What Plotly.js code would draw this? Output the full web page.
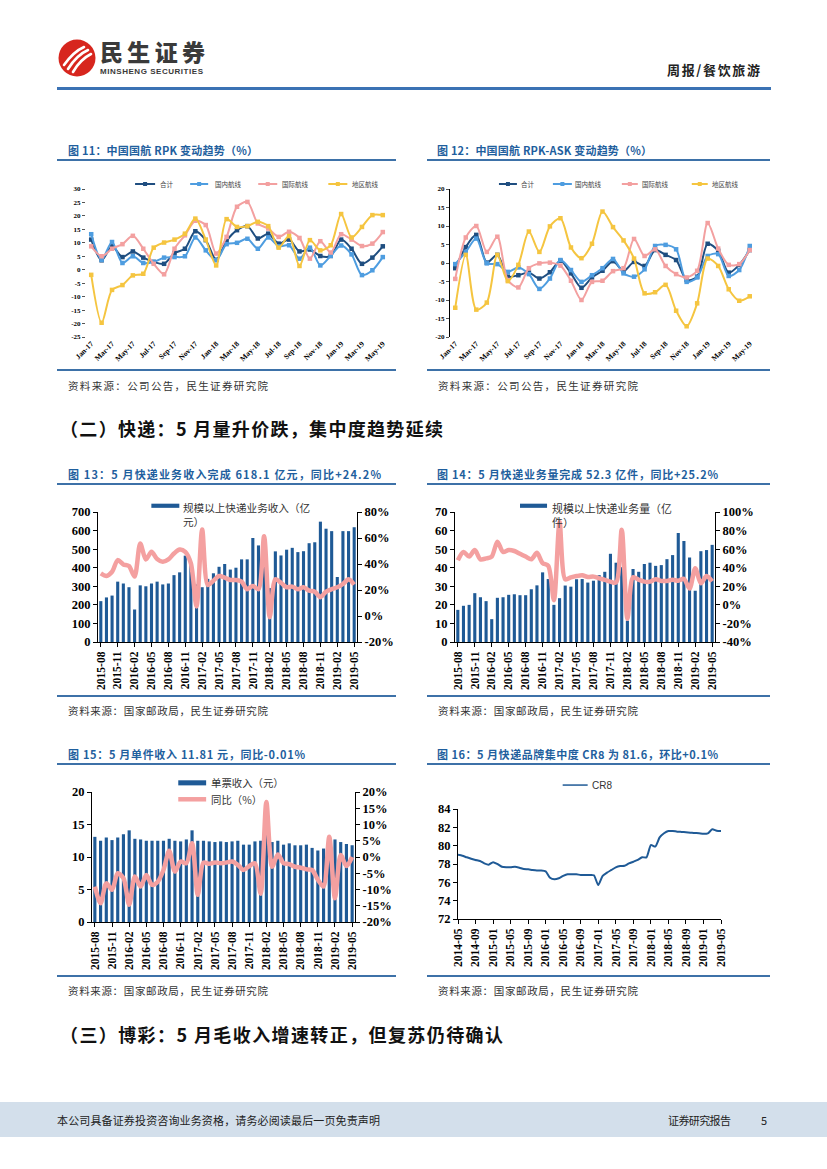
<!DOCTYPE html>
<html><head><meta charset="utf-8">
<script src="https://cdn.plot.ly/plotly-3.0.1.min.js"></script>
<style>
body{margin:0;background:#fff;}
#page{position:relative;width:827px;height:1169px;overflow:hidden;background:#fff;font-family:'Noto Sans CJK SC',sans-serif;}
.abs{position:absolute;white-space:nowrap;line-height:1;}
.ctitle{font-size:11px;font-weight:bold;color:#1f5f9e;}
.rule{position:absolute;height:2px;background:#3d71a8;}
.src{font-size:10.5px;color:#333;}
.sec{font-size:18px;font-weight:bold;color:#111;}
.chart{position:absolute;}
</style></head><body><div id="page">

<!-- header -->
<svg class="abs" style="left:58px;top:39px" width="38" height="38" viewBox="0 0 38 38">
<circle cx="19" cy="19" r="18.5" fill="#d7261e"/>
<path d="M6 26 C11 19 17 12 26 8" stroke="#fff" stroke-width="2.6" fill="none" stroke-linecap="round"/>
<path d="M10 30 C15 22 21 15 30 11" stroke="#fff" stroke-width="2.6" fill="none" stroke-linecap="round"/>
<path d="M15 33 C19 26 25 19 33 15" stroke="#fff" stroke-width="2.6" fill="none" stroke-linecap="round"/>
</svg>
<div class="abs" data-w="105" style="left:100px;top:40px;font-size:23px;font-weight:900;color:#3a3a3a;">民生证券</div>
<div class="abs" data-w="103" style="left:100px;top:68px;font-size:8px;font-weight:bold;color:#3a3a3a;font-family:'Liberation Sans',Arial,sans-serif;">MINSHENG SECURITIES</div>
<div class="abs" data-w="93" style="left:667px;top:62.5px;font-size:13px;font-weight:bold;color:#222;">周报/餐饮旅游</div>
<div class="rule" style="left:57px;top:87px;width:714px;height:2.5px;background:#3b72b4;"></div>

<!-- chart 11 / 12 headers -->
<div class="abs ctitle" data-w="190" style="left:68px;top:144.5px;">图 11：中国国航 RPK 变动趋势（%）</div>
<div class="rule" style="left:57px;top:159px;width:339px;"></div>
<div class="abs ctitle" data-w="215" style="left:437px;top:144.5px;">图 12：中国国航 RPK-ASK 变动趋势（%）</div>
<div class="rule" style="left:427px;top:159px;width:343px;"></div>

<div id="c11" class="chart" style="left:57px;top:165px;width:335px;height:205px;"></div>
<div id="c12" class="chart" style="left:425px;top:165px;width:340px;height:205px;"></div>

<div class="rule" style="left:57px;top:369px;width:339px;"></div>
<div class="rule" style="left:427px;top:369px;width:343px;"></div>
<div class="abs src" data-w="200" style="left:68px;top:381px;">资料来源：公司公告，民生证券研究院</div>
<div class="abs src" data-w="200" style="left:438px;top:381px;">资料来源：公司公告，民生证券研究院</div>

<div class="abs sec" data-w="383" style="left:60px;top:419px;">（二）快递：5 月量升价跌，集中度趋势延续</div>

<!-- chart 13 / 14 -->
<div class="abs ctitle" data-w="313" style="left:68px;top:468.5px;">图 13：5 月快递业务收入完成 618.1 亿元，同比+24.2%</div>
<div class="rule" style="left:57px;top:483px;width:339px;"></div>
<div class="abs ctitle" data-w="281" style="left:437px;top:468.5px;">图 14：5 月快递业务量完成 52.3 亿件，同比+25.2%</div>
<div class="rule" style="left:427px;top:483px;width:343px;"></div>

<div id="c13" class="chart" style="left:57px;top:490px;width:340px;height:206px;"></div>
<div id="c14" class="chart" style="left:425px;top:490px;width:345px;height:206px;"></div>

<div class="rule" style="left:57px;top:695px;width:339px;"></div>
<div class="rule" style="left:427px;top:695px;width:343px;"></div>
<div class="abs src" data-w="200" style="left:68px;top:705.5px;">资料来源：国家邮政局，民生证券研究院</div>
<div class="abs src" data-w="200" style="left:438px;top:705.5px;">资料来源：国家邮政局，民生证券研究院</div>

<!-- chart 15 / 16 -->
<div class="abs ctitle" data-w="237" style="left:68px;top:748.5px;">图 15：5 月单件收入 11.81 元，同比-0.01%</div>
<div class="rule" style="left:57px;top:763px;width:339px;"></div>
<div class="abs ctitle" data-w="281" style="left:437px;top:748.5px;">图 16：5 月快递品牌集中度 CR8 为 81.6，环比+0.1%</div>
<div class="rule" style="left:427px;top:763px;width:343px;"></div>

<div id="c15" class="chart" style="left:57px;top:768px;width:340px;height:208px;"></div>
<div id="c16" class="chart" style="left:425px;top:768px;width:340px;height:208px;"></div>

<div class="rule" style="left:57px;top:975px;width:339px;"></div>
<div class="rule" style="left:427px;top:975px;width:343px;"></div>
<div class="abs src" data-w="200" style="left:68px;top:985.5px;">资料来源：国家邮政局，民生证券研究院</div>
<div class="abs src" data-w="200" style="left:438px;top:985.5px;">资料来源：国家邮政局，民生证券研究院</div>

<div class="abs sec" data-w="443" style="left:60px;top:1025px;">（三）博彩：5 月毛收入增速转正，但复苏仍待确认</div>

<!-- footer -->
<div style="position:absolute;left:0;top:1102px;width:827px;height:35px;background:#d3dfeb;"></div>
<div class="abs" data-w="323" style="left:57px;top:1114.5px;font-size:11px;color:#222;">本公司具备证券投资咨询业务资格，请务必阅读最后一页免责声明</div>
<div class="abs" data-w="63" style="left:668px;top:1114.5px;font-size:11px;color:#222;">证券研究报告</div>
<div class="abs" style="left:761px;top:1114.5px;font-size:11px;color:#222;">5</div>

</div>
<script>
// ---------------- data ----------------
const months17 = ['Jan-17','Feb-17','Mar-17','Apr-17','May-17','Jun-17','Jul-17','Aug-17','Sep-17','Oct-17','Nov-17','Dec-17','Jan-18','Feb-18','Mar-18','Apr-18','May-18','Jun-18','Jul-18','Aug-18','Sep-18','Oct-18','Nov-18','Dec-18','Jan-19','Feb-19','Mar-19','Apr-19','May-19'];
const rpkTickLabels = ['Jan-17','Mar-17','May-17','Jul-17','Sep-17','Nov-17','Jan-18','Mar-18','May-18','Jul-18','Sep-18','Nov-18','Jan-19','Mar-19','May-19'];
const seriesNames = ['合计','国内航线','国际航线','地区航线'];

// 图11 RPK 变动 (%)
const rpkTotal = [11.2,3.5,8.7,4.7,6.8,4.5,2.9,2.2,6.2,7.8,14.3,11.0,3.7,10.7,14.7,16.2,11.6,13.4,9.7,11.2,6.8,7.5,5.1,5.1,11.2,7.8,2.2,4.5,8.7];
const rpkDomestic = [13.2,3.7,10.3,2.5,5.0,2.5,2.9,4.5,4.7,5.0,12.0,7.2,3.5,9.5,10.0,11.5,7.8,12.0,8.7,9.1,4.1,8.2,1.6,5.2,9.0,5.7,-2.0,-0.2,4.7];
const rpkIntl = [8.7,5.0,7.8,9.5,12.6,7.8,2.2,-1.7,7.8,12.8,18.2,16.6,6.0,12.2,23.4,25.2,17.2,15.3,12.2,14.1,11.8,4.1,10.6,6.4,13.2,11.2,8.8,9.7,14.0];
const rpkRegional = [-1.9,-19.7,-7.5,-5.7,-2.1,-1.5,8.2,10.1,11.2,13.4,19.0,11.2,1.6,18.8,15.9,16.2,17.8,16.2,8.2,12.5,1.4,11.0,7.2,9.1,20.7,12.0,15.9,20.3,20.3];
const rpkYTicks = [30,25,20,15,10,5,0,-5,-10,-15,-20,-25];

// 图12 RPK-ASK 变动 (%)
const gapTotal = [-1.4,4.3,7.6,0.1,2.2,-3.7,-3.3,-2.6,-4.2,-2.5,0.6,-2.8,-6.7,-3.9,-2.1,0.5,-2.2,0.3,-0.8,3.5,2.2,0.8,-4.6,-3.7,5.2,3.3,-2.6,-0.5,3.5];
const gapDomestic = [-0.3,3.0,6.6,-0.1,-0.3,-2.4,-1.2,-3.0,-7.0,-4.2,0.8,-1.9,-5.1,-3.3,-1.4,1.1,-2.8,-3.7,-1.7,4.6,4.9,3.7,-5.1,-3.9,1.9,2.4,-3.5,-1.9,4.6];
const gapIntl = [-4.3,6.9,10.0,3.0,7.1,-4.6,-6.6,-1.4,-0.1,0.1,-0.7,-4.8,-10.0,-5.1,-4.8,-2.2,-1.4,6.5,1.9,3.7,-0.8,-3.0,-3.9,-2.1,10.8,3.9,-0.5,-0.3,3.5];
const gapRegional = [-12.1,2.2,-12.6,-10.7,2.2,-4.9,-0.5,8.5,3.0,9.9,12.1,4.2,1.3,5.2,13.9,9.7,6.1,1.2,-8.2,-7.9,-5.9,-12.9,-17.1,-10.9,1.2,-0.8,-7.1,-10.2,-9.0];
const gapYTicks = [20,15,10,5,0,-5,-10,-15,-20];

// 快递月度 2015-08 ~ 2019-05
const months46 = ['2015-08','2015-09','2015-10','2015-11','2015-12','2016-01','2016-02','2016-03','2016-04','2016-05','2016-06','2016-07','2016-08','2016-09','2016-10','2016-11','2016-12','2017-01','2017-02','2017-03','2017-04','2017-05','2017-06','2017-07','2017-08','2017-09','2017-10','2017-11','2017-12','2018-01','2018-02','2018-03','2018-04','2018-05','2018-06','2018-07','2018-08','2018-09','2018-10','2018-11','2018-12','2019-01','2019-02','2019-03','2019-04','2019-05'];
const expressTickLabels = ['2015-08','2015-11','2016-02','2016-05','2016-08','2016-11','2017-02','2017-05','2017-08','2017-11','2018-02','2018-05','2018-08','2018-11','2019-02','2019-05'];

// 图13 收入 (亿元) 与同比 (%)
const revenue = [220,240,250,325,315,295,175,305,300,315,325,310,315,360,375,465,428,310,295,340,370,405,420,390,400,445,445,560,520,500,290,488,466,497,507,484,489,532,537,648,610,597,350,597,597,618];
const revenueYoY = [32.8,30.8,34.0,43.0,39.7,38.4,30.3,55.8,43.5,49.4,43.8,41.7,43.5,48.1,51.2,49.4,40.5,7.3,66.5,23.9,27.2,30.8,29.5,27.7,27.7,26.4,20.6,23.1,20.6,61.4,-0.9,28.2,25.6,22.1,22.6,20.6,22.1,19.5,18.7,14.5,18.7,20.6,22.1,24.6,28.2,24.2];
const revLeftTicks = [0,100,200,300,400,500,600,700];
const revRightTicks = [-20,0,20,40,60,80];

// 图14 业务量 (亿件) 与同比 (%)
const volume = [17.3,19.5,20.0,26.3,24.1,22.0,12.3,23.8,24.1,25.4,25.7,25.2,25.2,28.4,30.5,37.5,33.9,20.0,23.6,30.4,29.8,33.8,33.9,32.0,33.0,36.0,37.8,47.5,42.7,40.3,11.5,39.3,37.8,42.0,42.7,41.0,41.4,44.6,46.8,58.7,54.4,45.5,27.6,48.9,49.5,52.3];
const volumeYoY = [48,57,52,59,49,50,52,68,57,59,58,55,52,49,56,45,42,5,89,27.5,29.5,31,32,30,30.4,28.6,27,25,24,81,-15,29.7,27,25,25,27.6,25.8,25.8,27,26,28,17.5,39.3,23.2,31,25.2];
const volLeftTicks = [0,10,20,30,40,50,60,70];
const volRightTicks = [-40,-20,0,20,40,60,80,100];

// 图15 单票收入 (元) 与同比 (%)
const unitRevenue = [13.1,12.5,13.0,12.6,13.0,13.5,14.1,12.8,12.7,12.5,12.5,12.5,12.5,12.8,12.5,12.4,12.7,14.1,12.5,12.5,12.4,12.3,12.4,12.3,12.4,12.5,11.9,11.9,12.4,12.5,14.5,12.3,12.5,11.9,12.1,11.8,11.8,11.9,11.4,11.0,11.3,11.8,12.7,12.3,12.0,11.81];
const unitYoY = [-9.1,-14.2,-8.1,-10.1,-5.0,-6.5,-14.7,-6.0,-9.1,-5.5,-8.6,-7.6,-4.0,1.9,-4.5,-1.4,-1.9,4.2,-11.6,-1.7,-2.1,-1.7,-1.9,-1.7,-1.4,-2.4,-4.0,-2.8,-1.9,-11.3,16.9,-3.0,0.8,-1.9,-2.2,-3.0,-3.3,-3.8,-4.0,-7.0,-9.1,6.2,-12.7,0.6,-2.8,-0.01];
const unitLeftTicks = [0,5,10,15,20];
const unitRightTicks = [-20,-15,-10,-5,0,5,10,15,20];

// 图16 CR8
const cr8Months = ['2014-05','2014-06','2014-07','2014-08','2014-09','2014-10','2014-11','2014-12','2015-01','2015-02','2015-03','2015-04','2015-05','2015-06','2015-07','2015-08','2015-09','2015-10','2015-11','2015-12','2016-01','2016-02','2016-03','2016-04','2016-05','2016-06','2016-07','2016-08','2016-09','2016-10','2016-11','2016-12','2017-01','2017-02','2017-03','2017-04','2017-05','2017-06','2017-07','2017-08','2017-09','2017-10','2017-11','2017-12','2018-01','2018-02','2018-03','2018-04','2018-05','2018-06','2018-07','2018-08','2018-09','2018-10','2018-11','2018-12','2019-01','2019-02','2019-03','2019-04','2019-05'];
const cr8 = [79.0,78.9,78.73,78.58,78.44,78.33,78.07,77.93,78.2,78.0,77.7,77.64,77.64,77.7,77.6,77.46,77.42,77.35,77.3,77.3,77.2,76.5,76.33,76.44,76.7,76.88,76.88,76.88,76.8,76.8,76.8,76.77,75.7,76.7,77.06,77.35,77.64,77.78,77.8,78.07,78.25,78.44,78.73,78.73,80.07,79.9,80.9,81.35,81.6,81.6,81.53,81.5,81.46,81.42,81.38,81.35,81.3,81.35,81.78,81.63,81.6];
const cr8TickLabels = ['2014-05','2014-09','2015-01','2015-05','2015-09','2016-01','2016-05','2016-09','2017-01','2017-05','2017-09','2018-01','2018-05','2018-09','2019-01','2019-05'];
const cr8YTicks = [72,74,76,78,80,82,84];

// ---------------- style ----------------
const SERIF = 'Liberation Serif, Times New Roman, serif';
const CJK = 'Noto Sans CJK SC, sans-serif';
const NAVY = '#1f4e80', LBLUE = '#4e9de0', PINK = '#f3a0a0', GOLD = '#f5c540';
const BAR = '#1f5a96', LINEPINK = '#f4a0a0';
const cfg = {staticPlot:true, displayModeBar:false};

function baseLayout(l,r,t,b){
  return {margin:{l:l,r:r,t:t,b:b}, paper_bgcolor:'rgba(0,0,0,0)', plot_bgcolor:'rgba(0,0,0,0)',
    showlegend:false, font:{family:SERIF,color:'#000'}, shapes:[], annotations:[]};
}
function lineTrace(name, x, y, color){
  return {type:'scatter', mode:'lines+markers', name:name, x:x, y:y,
    line:{color:color, width:2, shape:'spline', smoothing:0.8},
    marker:{symbol:'square', size:4.5, color:color}};
}
// legend drawn as paper-space swatches, positions in pixels of the plot area
function rpkLegend(L, plotW, plotH, swatches, textX, colors){
  const y = 1 + 5/plotH;
  swatches.forEach((s,i)=>{
    const x0 = s[0]/plotW, x1 = s[1]/plotW, xm = (x0+x1)/2;
    L.shapes.push({type:'line', xref:'paper', yref:'paper', x0:x0, x1:x1, y0:y, y1:y, line:{color:colors[i], width:2}});
    L.shapes.push({type:'rect', xref:'paper', yref:'paper', x0:xm-2/plotW, x1:xm+2/plotW, y0:y-2/plotH, y1:y+2/plotH,
      fillcolor:colors[i], line:{width:0}});
    L.annotations.push({xref:'paper', yref:'paper', x:textX[i]/plotW, y:y, xanchor:'left', yanchor:'middle',
      showarrow:false, text:seriesNames[i], font:{family:CJK, size:6.5, color:'#444'}});
  });
}
function rpkLayout(l,r,t,b,ymin,ymax,yt){
  const L = baseLayout(l,r,t,b);
  L.xaxis = {type:'category', categoryorder:'array', categoryarray:months17, range:[-0.5,28.5],
    tickvals:rpkTickLabels, ticktext:rpkTickLabels, tickangle:-45,
    tickfont:{family:SERIF,size:7.5,weight:'bold'}, showline:false, ticks:'', showgrid:false, zeroline:false};
  L.xaxis2 = {overlaying:'x', anchor:'free', position:(0-ymin)/(ymax-ymin), range:[-0.5,28.5],
    tick0:-0.5, dtick:1, ticks:'outside', ticklen:3, tickcolor:'#000', showticklabels:false,
    showline:true, linecolor:'#000', linewidth:1, showgrid:false, zeroline:false};
  L.yaxis = {range:[ymin,ymax], tickvals:yt, ticktext:yt.map(String),
    tickfont:{family:SERIF,size:7,weight:'bold'}, ticks:'outside', ticklen:3, tickcolor:'#555',
    showgrid:false, zeroline:false};
  return L;
}
const rpkColors = [NAVY, LBLUE, PINK, GOLD];

// ---- chart 11
{
  const L = rpkLayout(29,4.4,24,33,-25,30,rpkYTicks);
  L.yaxis.showline = false;
  rpkLegend(L, 301.6, 148, [[49,69],[104,122],[172,191],[242,261]], [72,127,194,264], rpkColors);
  Plotly.newPlot('c11', [
    lineTrace(seriesNames[0], months17, rpkTotal, NAVY),
    lineTrace(seriesNames[1], months17, rpkDomestic, LBLUE),
    lineTrace(seriesNames[2], months17, rpkIntl, PINK),
    lineTrace(seriesNames[3], months17, rpkRegional, GOLD)
  ], L, cfg);
}
// ---- chart 12
{
  const L = rpkLayout(25,9.7,24.3,33.3,-20,20,gapYTicks);
  L.yaxis.showline = true; L.yaxis.linecolor = '#000'; L.yaxis.linewidth = 1;
  rpkLegend(L, 305.3, 147.4, [[49,67],[103,122],[172,188],[242,258]], [69,123,190,260], rpkColors);
  Plotly.newPlot('c12', [
    lineTrace(seriesNames[0], months17, gapTotal, NAVY),
    lineTrace(seriesNames[1], months17, gapDomestic, LBLUE),
    lineTrace(seriesNames[2], months17, gapIntl, PINK),
    lineTrace(seriesNames[3], months17, gapRegional, GOLD)
  ], L, cfg);
}

function comboLayout(l,r,t,b,leftTicks,rightTicks,xcats,xticks){
  const L = baseLayout(l,r,t,b);
  L.bargap = 0.45;
  L.xaxis = {type:'category', categoryorder:'array', categoryarray:xcats, range:[-0.5,xcats.length-0.5],
    tickvals:xticks, ticktext:xticks, tickangle:-90, tickfont:{family:SERIF,size:11.5,weight:'bold'},
    ticks:'outside', ticklen:4, tickcolor:'#000', showline:true, linecolor:'#000', linewidth:1,
    showgrid:false, zeroline:false};
  L.yaxis = {range:[leftTicks[0], leftTicks[leftTicks.length-1]], tickvals:leftTicks, ticktext:leftTicks.map(String),
    tickfont:{family:SERIF,size:12.5,weight:'bold'}, ticks:'outside', ticklen:4, tickcolor:'#000',
    showline:true, linecolor:'#000', linewidth:1, showgrid:false, zeroline:false};
  L.yaxis2 = {overlaying:'y', side:'right', range:[rightTicks[0], rightTicks[rightTicks.length-1]],
    tickvals:rightTicks, ticktext:rightTicks.map(v=>v+'%'),
    tickfont:{family:SERIF,size:12.5,weight:'bold'}, ticks:'outside', ticklen:4, tickcolor:'#000',
    showline:true, linecolor:'#000', linewidth:1, showgrid:false, zeroline:false};
  return L;
}
function legendBar(L, x0, x1, y0, y1){
  L.shapes.push({type:'rect', xref:'paper', yref:'paper', x0:x0, x1:x1, y0:y0, y1:y1, fillcolor:BAR, line:{width:0}});
}
function legendLine(L, x0, x1, y, color, w){
  L.shapes.push({type:'line', xref:'paper', yref:'paper', x0:x0, x1:x1, y0:y, y1:y, line:{color:color, width:w}});
}
function legendText(L, x, y, text, size, anchorY, fam){
  L.annotations.push({xref:'paper', yref:'paper', x:x, y:y, xanchor:'left', yanchor:anchorY||'middle', align:'left',
    showarrow:false, text:text, font:{family:fam||CJK, size:size, color:'#333'}});
}

// ---- chart 13
{
  const L = comboLayout(40.7,40.3,21.7,53.7,revLeftTicks,revRightTicks,months46,expressTickLabels);
  legendBar(L, 0.206, 0.314, 1.032, 1.064);
  legendText(L, 0.322, 1.105, '规模以上快递业务收入（亿<br>元）', 10.6, 'top');
  Plotly.newPlot('c13', [
    {type:'bar', name:'规模以上快递业务收入（亿元）', x:months46, y:revenue, marker:{color:BAR}},
    {type:'scatter', mode:'lines', name:'同比', x:months46, y:revenueYoY, yaxis:'y2',
      line:{color:LINEPINK, width:4.5, shape:'spline', smoothing:0.8}}
  ], L, cfg);
}
// ---- chart 14
{
  const L = comboLayout(30,55,21.7,53.7,volLeftTicks,volRightTicks,months46,expressTickLabels);
  legendBar(L, 0.25, 0.354, 1.032, 1.064);
  legendText(L, 0.364, 1.105, '规模以上快递业务量（亿<br>件）', 10.9, 'top');
  Plotly.newPlot('c14', [
    {type:'bar', name:'规模以上快递业务量（亿件）', x:months46, y:volume, marker:{color:BAR}},
    {type:'scatter', mode:'lines', name:'同比', x:months46, y:volumeYoY, yaxis:'y2',
      line:{color:LINEPINK, width:4.5, shape:'spline', smoothing:0.8}}
  ], L, cfg);
}
// ---- chart 15
{
  const L = comboLayout(34.7,42,23.7,53.7,unitLeftTicks,unitRightTicks,months46,expressTickLabels);
  legendBar(L, 0.328, 0.434, 1.051, 1.09);
  legendText(L, 0.446, 1.072, '单票收入（元）', 10.4);
  legendLine(L, 0.328, 0.434, 0.944, LINEPINK, 4.5);
  legendText(L, 0.446, 0.944, '同比（%）', 10.4);
  Plotly.newPlot('c15', [
    {type:'bar', name:'单票收入（元）', x:months46, y:unitRevenue, marker:{color:BAR}},
    {type:'scatter', mode:'lines', name:'同比（%）', x:months46, y:unitYoY, yaxis:'y2',
      line:{color:LINEPINK, width:4.5, shape:'spline', smoothing:0.8}}
  ], L, cfg);
}
// ---- chart 16
{
  const L = baseLayout(33.3,44,41,56.7);
  L.xaxis = {type:'category', categoryorder:'array', categoryarray:cr8Months, range:[0,cr8Months.length-1],
    tickvals:cr8TickLabels, ticktext:cr8TickLabels, tickangle:-90, tickfont:{family:SERIF,size:11.5,weight:'bold'},
    ticks:'outside', ticklen:4, tickcolor:'#000', showline:true, linecolor:'#000', linewidth:1,
    showgrid:false, zeroline:false};
  L.yaxis = {range:[72,84], tickvals:cr8YTicks, ticktext:cr8YTicks.map(String),
    tickfont:{family:SERIF,size:12.5,weight:'bold'}, ticks:'outside', ticklen:4, tickcolor:'#000',
    showline:true, linecolor:'#000', linewidth:1, showgrid:false, zeroline:false};
  legendLine(L, 0.398, 0.493, 1.2176, '#1f5a96', 1.5);
  legendText(L, 0.501, 1.2176, 'CR8', 10, 'middle', 'Liberation Sans, Arial, sans-serif');
  Plotly.newPlot('c16', [
    {type:'scatter', mode:'lines', name:'CR8', x:cr8Months, y:cr8, cliponaxis:false,
      line:{color:'#1f5a96', width:2, shape:'spline', smoothing:0.6}}
  ], L, cfg);
}

// ---- fit text widths
function fitAll(){
  document.querySelectorAll('[data-w]').forEach(el=>{
    el.style.letterSpacing='0px';
    const w = parseFloat(el.dataset.w);
    const nat = el.getBoundingClientRect().width;
    const n = Array.from(el.textContent).length;
    if(n>1){ el.style.letterSpacing = ((w-nat)/(n-1))+'px'; }
  });
}
fitAll();
if(document.fonts && document.fonts.ready){ document.fonts.ready.then(fitAll); }
</script>
</body></html>
